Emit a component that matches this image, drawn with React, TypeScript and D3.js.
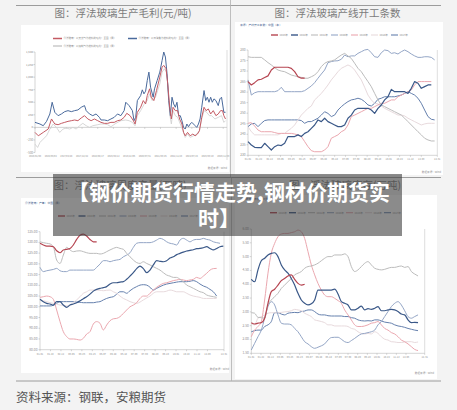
import React from 'react';
import * as d3 from 'd3';

const FONT = '"Noto Sans CJK SC", "Noto Sans", sans-serif';

// ---------------- Chart A: 浮法玻璃生产毛利(元/吨) ----------------
const marginDates = ['2016/01/08', '2016/09/02', '2017/04/28', '2017/12/22', '2018/08/17', '2019/04/12', '2019/12/06', '2020/07/31', '2021/03/26', '2021/11/19', '2022/07/15', '2023/03/10', '2023/11/03'];
const marginDateEvery = 47.5; // period index between date labels
const marginPeriodMax = 577;
const marginTicks = [1500, 1250, 1000, 750, 500, 250, 0, -250, -500];
const marginNames = ['浮法玻璃：以天然气为燃料的毛利：全国（周）', '浮法玻璃：以石油焦为燃料的毛利：全国（周）', '浮法玻璃：以煤制气为燃料的毛利：全国（周）'];
const marginGas: [number, number][] = [[0,-100],[10,-167],[25,-100],[40,-33],[50,167],[60,67],[70,53],[80,80],[90,100],[100,120],[110,133],[120,147],[130,133],[140,187],[150,233],[160,167],[170,133],[180,167],[190,133],[200,100],[210,80],[220,80],[230,100],[240,100],[250,133],[260,147],[270,200],[278,280],[288,233],[298,133],[303,67],[310,300],[320,400],[328,533],[335,467],[340,633],[347,767],[352,600],[360,533],[368,733],[378,1000],[385,1200],[390,1233],[397,1167],[402,867],[408,400],[413,167],[418,400],[425,333],[432,333],[438,167],[445,67],[450,-100],[455,-167],[462,-100],[470,-167],[478,-133],[485,-167],[492,-133],[498,-67],[505,200],[512,400],[518,333],[525,367],[532,267],[540,333],[548,233],[555,267],[562,333],[568,333],[572,233],[577,167]];
const marginPetcoke: [number, number][] = [[0,100],[15,67],[25,33],[35,120],[45,267],[52,500],[60,300],[70,233],[80,267],[90,313],[100,333],[110,313],[120,333],[130,347],[140,400],[150,433],[155,333],[165,267],[175,233],[185,267],[195,200],[200,147],[210,147],[220,133],[230,167],[240,200],[250,267],[260,233],[270,333],[275,500],[285,433],[295,333],[300,133],[305,200],[310,533],[320,633],[325,747],[330,667],[335,720],[340,933],[345,1100],[350,800],[358,600],[362,767],[370,933],[378,1100],[385,1333],[390,1500],[395,1400],[400,1067],[405,533],[410,233],[415,600],[420,467],[425,400],[430,500],[435,233],[440,233],[445,133],[450,0],[455,-33],[460,67],[465,13],[470,67],[475,100],[480,67],[485,33],[490,0],[495,67],[500,167],[505,400],[512,733],[517,533],[522,600],[527,500],[532,600],[537,500],[542,567],[548,533],[555,433],[560,567],[565,600],[572,300],[577,300]];
const marginCoal: [number, number][] = [[0,-333],[8,-400],[15,-300],[25,-233],[35,-167],[45,-33],[55,67],[65,0],[75,-100],[85,-33],[95,-13],[105,-33],[115,0],[125,-33],[135,33],[145,80],[155,33],[165,0],[175,33],[190,53],[200,67],[210,67],[220,53],[230,13],[245,80],[260,133],[275,147],[285,133],[295,100],[303,33],[310,233],[320,333],[330,453],[340,533],[347,667],[355,533],[365,600],[378,867],[385,1100],[392,1167],[398,1100],[403,800],[408,267],[413,67],[418,333],[425,233],[432,200],[440,67],[448,-67],[455,-200],[462,-133],[470,-200],[480,-167],[490,-133],[498,-67],[505,167],[512,333],[520,300],[528,233],[535,233],[545,167],[555,200],[565,233],[572,100],[577,133]];

// ---------------- seasonal charts (by week) ----------------
const yearNames = ['2023年', '2022年', '2021年', '2020年', '2019年', '2018年', '2017年'];
const yearColors = ['#b64551', '#3a5888', '#bcbcbc', '#94a6c6', '#eba7af', '#e8dadd', '#6580ad'];
const weekLabels = ['01-01', '01-22', '02-12', '03-05', '03-26', '04-16', '05-07', '05-28', '06-18', '07-09', '07-30', '08-20', '09-10', '10-01', '10-22', '11-12', '12-03', '12-31'];

// Chart B: 浮法玻璃产线开工条数
const linesB2023 = [265.0,263.4,264.5,265.8,266.1,266.9,267.7,270.5,271.8,271.8,271.8,271.8,271.8,271.3,269.7,267.3,266.6,266.6];
const linesB2022 = [236.5,234.9,233.8,233.6,233.6,235.7,234.1,232.5,234.1,234.9,234.6,235.7,238.9,238.9,238.9,239.7,238.9,240.4,241.2,242.8,244.4,246.8,246.0,247.6,246.0,245.2,244.4,243.6,243.6,244.4,247.6,249.1,251.5,252.3,252.3,252.3,252.3,251.5,249.9,252.3,253.9,256.3,257.8,261.3,260.2,260.2,260.2,260.2,259.4,261.8,265.0,264.2,261.8,262.6,263.4,263.4];
const linesB2021 = [276.8,276.5,276.5,276.5,276.5,275.3,274.0,272.9,271.6,270.5,270.0,269.7,268.9,268.1,267.7,267.3,267.0,266.6,266.6,267.3,268.1,269.7,272.1,273.7,274.5,274.8,275.3,276.5,277.6,278.4,277.2,276.0,273.7,271.3,269.7,267.3,265.0,262.6,259.4,256.3,253.9,253.1,252.3,251.5,250.7,249.9,249.1,247.6,246.0,244.4,242.8,241.2,239.7,238.1,237.3,236.8,236.8];
const linesB2020 = [265.8,258.6,259.7,260.2,260.2,260.2,260.2,260.2,260.2,260.7,262.3,260.2,260.2,260.2,260.2,260.2,260.2,260.7,261.8,262.9,264.5,266.6,268.6,270.5,274.0,274.5,274.8,274.9,275.6,277.6,276.8,277.2,277.2,278.4,279.2,280.0,280.3,278.7,276.8,276.5,278.7,280.0,279.7,278.4,278.7,278.1,279.2,280.0,279.2,278.1,277.2,276.5,276.5,276.8,276.8,276.5,275.3];
const linesB2019 = [245.2,245.5,243.9,242.0,241.2,241.2,241.2,241.2,240.8,240.4,240.4,240.4,240.4,240.4,240.1,239.7,238.9,236.5,234.1,232.2,231.7,231.7,231.7,232.5,234.1,238.1,238.9,239.7,241.2,242.0,244.4,248.4,249.1,249.9,250.7,251.5,252.3,252.3,253.1,253.9,254.7,254.7,255.5,256.3,256.3,257.8,258.6,259.4,260.2,261.0,263.4,265.0,265.0,265.0,265.0,265.0];
const linesB2018 = [243.6,241.2,239.7,239.7,239.7,239.7,239.7,239.7,239.7,239.7,240.4,240.4,241.7,242.8,244.4,246.8,249.1,250.7,252.3,253.4,256.3,257.8,259.4,261.3,263.4,265.8,267.7,269.7,271.3,272.1,272.9,272.1,270.5,268.1,265.8,262.3,258.6,256.3,254.7,254.4,253.4,252.3,251.5,250.7,249.9,249.1,249.1,248.7,247.6,246.8,246.0,245.2,244.4,244.9,245.2,245.2,245.2];
const linesB2017 = [243.6,244.9,245.2,243.6,245.2,246.5,246.8,246.8,246.8,246.8,246.8,246.8,246.8,246.8,246.8,246.8,246.5,245.2,246.0,246.0,246.8,247.6,249.1,250.7,249.9,248.4,249.1,251.5,253.1,254.4,255.5,256.3,256.6,257.1,256.6,255.5,253.9,253.4,254.7,256.6,257.1,257.8,257.8,257.8,257.8,258.2,258.6,259.4,260.2,259.4,258.6,257.1,254.7,251.5,248.4,247.1,246.8];

// Chart C: 周度产量
const outC2023 = [129.6,128.8,128.3,128.3,128.0,126.1,125.2,126.5,126.8,127.2,128.8,131.4,133.4,133.9,133.0,131.4,130.3,130.3];
const outC2022 = [103.5,102.4,101.6,101.3,100.8,102.4,102.4,100.8,99.7,100.8,101.3,101.9,102.8,103.8,104.7,105.9,107.3,108.1,108.6,108.9,109.4,110.6,111.2,111.2,111.5,111.7,112.8,114.3,115.9,117.8,119.0,117.8,115.9,117.1,119.5,121.5,121.2,121.0,121.5,122.7,123.3,124.3,124.9,125.5,126.0,126.3,126.6,127.1,127.2,127.5,128.0,127.2,126.5,127.2,128.0,128.3];
const outC2021 = [130.3,129.9,129.6,129.3,128.0,121.8,120.2,124.1,127.7,126.5,125.7,126.0,126.1,125.7,125.2,124.9,124.9,124.9,124.6,124.9,125.7,126.5,127.2,127.7,127.2,126.8,124.9,123.3,121.8,120.6,120.2,121.0,120.2,119.5,118.7,117.9,117.1,115.9,114.8,114.3,113.7,113.7,112.8,111.7,110.1,109.4,108.6,107.8,107.0,106.6,105.5,105.0,104.7,104.4];
const outC2020 = [118.4,116.4,116.8,117.1,117.4,117.9,116.8,116.4,116.4,117.1,117.1,117.1,117.1,117.1,117.1,117.1,117.1,118.4,119.9,121.5,121.5,121.0,121.5,121.8,122.1,123.3,124.1,125.2,127.7,129.6,129.9,129.9,129.9,129.9,130.3,131.1,131.9,131.4,130.3,129.6,129.3,128.8,131.1,131.9,131.1,130.3,131.1,131.4,131.4,131.9,131.4,131.1,130.3,129.9,129.6];
const outC2019 = [104.4,104.7,105.0,104.7,103.5,98.5,93.1,88.4,86.1,85.0,85.0,84.8,84.5,85.3,87.3,88.4,92.0,93.1,92.3,89.2,91.5,93.5,94.4,94.6,95.4,96.9,98.5,100.0,100.8,101.9,103.9,105.0,105.0,106.3,107.8,109.1,110.1,110.9,111.2,111.7,112.2,112.5,112.8,112.5,112.2,112.5,112.8,113.7,113.2,114.3,115.6,117.1,117.8,117.9];
const outC2018 = [103.2,102.8,102.4,101.9,101.6,101.3,100.8,100.7,100.4,100.8,101.9,103.2,104.7,106.3,107.0,107.8,107.8,107.8,107.7,107.5,107.7,107.8,107.0,106.3,105.0,103.9,103.2,102.4,101.9,101.6,102.2,103.2,104.1,105.0,106.3,107.0,107.0,107.0,107.3,107.8,107.5,107.0,107.0,107.0,106.3,105.5,105.0,104.7,104.4,103.9,103.9,103.9,103.9,103.9];
const outC2017 = [100.4,100.4,100.4,100.4,100.7,101.6,102.4,102.4,102.4,102.4,102.4,102.2,102.1,101.9,101.9,101.9,101.9,102.2,102.4,103.2,103.9,104.4,104.7,105.9,107.0,107.0,106.3,107.5,108.6,109.4,110.1,110.3,110.1,109.1,107.8,108.6,109.4,110.1,110.6,110.9,111.2,111.5,111.7,111.7,111.7,111.9,112.2,111.7,110.6,109.7,109.1,108.1,107.0,105.0];

// Chart D: 库存
const stockD2023 = [2.61,2.56,2.59,2.61,2.77,3.31,3.73,3.82,3.97,4.13,4.21,4.30,4.34,4.18,4.03,3.97,4.00];
const stockD2022 = [4.18,4.09,4.52,4.85,4.94,5.06,5.12,5.14,5.00,4.70,4.52,4.40,4.21,3.97,3.67,3.43,3.31,3.25,3.29,3.43,3.79,3.79,3.79,3.79,3.79,3.82,3.65,3.37,3.31,3.25,3.07,3.07,3.13,3.21,3.07,3.12,3.09,3.13,3.19,3.04,3.04,3.07,3.09,3.07,3.01,2.92,2.89,2.71,2.61,2.62,2.61];
const stockD2021 = [2.97,2.95,2.80,2.79,2.77,3.25,3.43,3.55,3.67,3.85,3.97,4.09,4.21,4.34,4.40,4.46,4.58,4.64,4.66,4.70,4.76,4.85,4.94,5.00,5.00,5.06,5.06,5.06,5.10,5.00,4.64,4.46,4.52,4.64,4.76,4.82,4.70,4.58,4.54,4.52,4.54,4.58,4.61,4.61,4.64,4.66,4.61,4.64,4.46,4.37,4.30];
const stockD2020 = [1.62,1.86,2.10,2.34,2.77,3.19,3.37,3.25,2.89,2.59,2.56,2.56,2.53,2.40,2.28,2.10,1.92,1.84,1.74,1.68,1.72,1.77,1.84,1.98,2.07,2.08,2.08,2.01,1.92,1.89,1.96,2.04,2.13,2.20,2.22,2.25,2.28,2.34,2.53,2.65,2.83,3.01,3.19,3.31,3.37,3.25,3.04,2.83,2.77,2.83,2.89];
const stockD2019 = [2.10,2.34,2.47,2.65,3.43,4.40,5.12,5.48,5.72,5.82,5.84,5.84,5.87,5.90,5.96,5.90,5.66,5.18,4.70,4.34,4.03,3.79,3.61,3.55,3.55,3.49,3.41,3.31,3.07,2.89,2.71,2.53,2.47,2.47,2.49,2.53,2.59,2.61,2.65,2.53,2.40,2.34,2.25,2.20,2.10,1.98,1.92,1.84,1.74,1.64,1.60];
const stockD2018 = [2.59,2.53,2.77,2.83,2.89,2.95,2.97,2.97,2.97,2.98,3.00,3.01,3.04,3.09,3.07,3.04,2.95,2.89,2.83,2.71,2.68,2.65,2.61,2.53,2.53,2.49,2.49,2.49,2.49,2.47,2.40,2.37,2.28,2.22,2.20,2.22,2.20,2.28,2.22,2.10,2.01,1.98,1.92,1.91,1.89,1.89,1.91,1.92,1.92,1.89,1.91];
const stockD2017 = [2.28,2.32,2.34,2.34,2.47,2.53,2.65,2.97,2.97,2.92,2.89,2.95,2.97,2.98,2.97,3.01,3.03,3.07,3.07,3.01,2.92,2.89,2.89,2.86,2.85,2.85,2.85,2.85,2.83,2.83,2.79,2.77,2.71,2.68,2.67,2.68,2.67,2.71,2.71,2.67,2.63,2.61,2.59,2.53,2.49,2.47,2.44,2.40,2.37,2.34,2.32];

const GRID = '#ababab';
const LABEL = '#8e8e8e';

function SeasonChart(p: any) {
  const x = d3.scaleLinear().domain([0, p.xMax]).range([p.l, p.r]);
  const y = d3.scaleLinear().domain([p.yMin, p.yMax]).range([p.b, p.t]);
  const yTicks = d3.range(p.yMin, p.yMax + p.yStep / 2, p.yStep);
  const xTicks = weekLabels.map((_, i) => (i === weekLabels.length - 1 ? p.xMax : i * p.xStep));
  const line = d3.line<number>().x((_, i) => x(i)).y((d) => y(d)).curve(p.curve || d3.curveLinear);
  const fmt = d3.format(p.yFmt);
  return (
    <g fontFamily={FONT}>
      <rect x={p.box[0]} y={p.box[1]} width={p.box[2] - p.box[0]} height={p.box[3] - p.box[1]} fill="#fff" />
      <text x={p.headerX} y={p.headerY} fontSize={2.8} fill="#4a6591">{p.header}</text>
      {yearNames.map((name, i) => {
        const lx = p.legendX + i * p.legendGap;
        return (
          <g key={name}>
            <line x1={lx} x2={lx + 7} y1={p.legendY} y2={p.legendY} stroke={yearColors[i]} strokeWidth={i < 2 ? 1.4 : 1.1} />
            <text x={lx + 8.5} y={p.legendY + 0.9} fontSize={2.6} fill={LABEL}>{name}</text>
          </g>
        );
      })}
      <line x1={p.l} x2={p.l} y1={p.t} y2={p.b} stroke={GRID} strokeWidth={0.5} />
      {yTicks.map((v) => (
        <g key={v}>
          <line x1={p.l - 1.5} x2={p.l} y1={y(v)} y2={y(v)} stroke={GRID} strokeWidth={0.5} />
          <text x={p.l - 2.5} y={y(v) + 1} fontSize={p.yFont} textAnchor="end" fill={LABEL}>{fmt(v)}</text>
        </g>
      ))}
      <line x1={p.l} x2={x(p.xMax)} y1={p.b} y2={p.b} stroke={GRID} strokeWidth={0.5} />
      {xTicks.map((v, i) => (
        <g key={i}>
          <line x1={x(v)} x2={x(v)} y1={p.b} y2={p.b + 1.5} stroke={GRID} strokeWidth={0.5} />
          <text x={x(v)} y={p.b + 5} fontSize={2.5} textAnchor="middle" fill={LABEL}>{weekLabels[i]}</text>
        </g>
      ))}
      <line x1={x(p.xMax)} x2={x(p.xMax)} y1={p.t} y2={p.b} stroke="#c8c8c8" strokeWidth={0.6} />
      {p.series
        .map((s: number[], i: number) => (
          <path key={i} d={line(s) || ''} fill="none" stroke={yearColors[i]} strokeWidth={i < 2 ? 1.2 : 1.0} strokeLinejoin="round" />
        ))
        .reverse()}
      <text x={p.footerX} y={p.footerY} fontSize={2.6} textAnchor="end" fill={LABEL}>数据来源：Wind</text>
    </g>
  );
}

function MarginChart() {
  const l = 35, r = 225.5, t = 52, b = 152.5;
  const x = d3.scaleLinear().domain([0, marginPeriodMax]).range([l, r]);
  const y = d3.scaleLinear().domain([-500, 1500]).range([b, t]);
  const line = d3.line<[number, number]>().x((d) => x(d[0])).y((d) => y(d[1]));
  const fmt = d3.format(',');
  const series: { data: [number, number][]; color: string; w: number }[] = [
    { data: marginCoal, color: '#d2d2d2', w: 0.9 },
    { data: marginPetcoke, color: '#4a6a9c', w: 1.0 },
    { data: marginGas, color: '#c45a63', w: 1.0 },
  ];
  return (
    <g fontFamily={FONT}>
      <rect x={21} y={25} width={208} height={147} fill="#fff" />
      <line x1={53} x2={62} y1={38.5} y2={38.5} stroke="#c45a63" strokeWidth={1.5} />
      <text x={63.5} y={39.4} fontSize={2.5} fill={LABEL}>{marginNames[0]}</text>
      <line x1={128} x2={137} y1={38.5} y2={38.5} stroke="#4a6a9c" strokeWidth={1.5} />
      <text x={138.5} y={39.4} fontSize={2.5} fill={LABEL}>{marginNames[1]}</text>
      <line x1={53} x2={62} y1={46} y2={46} stroke="#bdbdbd" strokeWidth={1.2} />
      <text x={63.5} y={46.9} fontSize={2.5} fill={LABEL}>{marginNames[2]}</text>
      <line x1={l} x2={l} y1={t} y2={b} stroke={GRID} strokeWidth={0.5} />
      {marginTicks.map((v) => (
        <g key={v}>
          <line x1={l - 1.5} x2={l} y1={y(v)} y2={y(v)} stroke={GRID} strokeWidth={0.5} />
          <text x={l - 2} y={y(v) + 1} fontSize={2.8} textAnchor="end" fill={LABEL}>{fmt(v)}</text>
        </g>
      ))}
      <line x1={l} x2={227} y1={y(0)} y2={y(0)} stroke="#b5b5b5" strokeWidth={0.6} />
      {marginDates.map((d, i) => (
        <g key={d}>
          <line x1={x(i * marginDateEvery)} x2={x(i * marginDateEvery)} y1={y(0)} y2={y(0) + 1.5} stroke={GRID} strokeWidth={0.5} />
          <text x={x(i * marginDateEvery)} y={b + 4} fontSize={2.3} textAnchor="middle" fill={LABEL}>{d}</text>
        </g>
      ))}
      <line x1={227} x2={227} y1={50} y2={160} stroke="#c8c8c8" strokeWidth={0.6} />
      {series.map((s, i) => (
        <path key={i} d={line(s.data) || ''} fill="none" stroke={s.color} strokeWidth={s.w} strokeLinejoin="round" />
      ))}
      <text x={227} y={169} fontSize={2.6} textAnchor="end" fill={LABEL}>数据来源：Wind</text>
    </g>
  );
}

export default function App() {
  return (
    <svg width={457} height={410} style={{ position: 'absolute', left: 0, top: 0 }} fontFamily={FONT}>
      <rect x={0} y={0} width={457} height={410} fill="#f3f3f3" />
      {/* frame lines */}
      <line x1={16} x2={441} y1={5.5} y2={5.5} stroke="#9c9c9c" strokeWidth={1} />
      <line x1={16} x2={441} y1={177.5} y2={177.5} stroke="#9c9c9c" strokeWidth={1} />
      <line x1={16} x2={441} y1={381} y2={381} stroke="#9c9c9c" strokeWidth={1} />
      <line x1={230.5} x2={230.5} y1={0} y2={177.5} stroke="#b0b0b0" strokeWidth={0.8} />
      <line x1={231.5} x2={231.5} y1={177.5} y2={381} stroke="#b0b0b0" strokeWidth={0.8} />

      <text x={123} y={17} fontSize={10.5} textAnchor="middle" fill="#7c7c7c">图：浮法玻璃生产毛利(元/吨)</text>
      <text x={337.5} y={17} fontSize={10.5} textAnchor="middle" fill="#7c7c7c">图：浮法玻璃产线开工条数</text>
      <text x={120} y={189} fontSize={10.5} textAnchor="middle" fill="#7c7c7c">图：浮法玻璃周度产量(万吨)</text>
      <text x={401} y={189} fontSize={10.5} textAnchor="end" fill="#7c7c7c">图：浮法玻璃库存(万吨)</text>

      <MarginChart />
      <SeasonChart
        box={[235, 22, 443, 175]} l={248} r={437.3} t={50} b={155.3}
        xMax={56.8} xStep={3.25} yMin={230} yMax={280} yStep={5} yFmt="d" yFont={3.2}
        header="来源：产线开工条数：中国（条）" headerX={240} headerY={25.5}
        legendX={271} legendY={35} legendGap={20}
        footerX={441} footerY={173}
        series={[linesB2023, linesB2022, linesB2021, linesB2020, linesB2019, linesB2018, linesB2017]}
      />
      <SeasonChart
        box={[21, 198, 229, 373]} l={40} r={224} t={231.7} b={349.7}
        xMax={55.2} xStep={3.14} yMin={80} yMax={135} yStep={5} yFmt=".2f" yFont={3.3}
        header="浮法玻璃：产量：中国（周）" headerX={25} headerY={204}
        legendX={58} legendY={216} legendGap={20.5}
        footerX={229} footerY={370}
        curve={d3.curveMonotoneX}
        series={[outC2023, outC2022, outC2021, outC2020, outC2019, outC2018, outC2017]}
      />
      <SeasonChart
        box={[235, 195, 437, 379]} l={251.3} r={424.7} t={229} b={353.3}
        xMax={52} xStep={2.9} yMin={1.5} yMax={6} yStep={0.5} yFmt=".2f" yFont={3.3}
        header="浮法玻璃：库存：中国（周）" headerX={240} headerY={200}
        legendX={270} legendY={212.7} legendGap={19}
        footerX={434} footerY={374}
        curve={d3.curveMonotoneX}
        series={[stockD2023, stockD2022, stockD2021, stockD2020, stockD2019, stockD2018, stockD2017]}
      />

      {/* overlay banner */}
      <rect x={53} y={174} width={349} height={62} fill="rgba(62,62,62,0.6)" />
      <text x={229} y={200} fontSize={21} fontWeight={700} textAnchor="middle" fill="#fff">【钢价期货行情走势,钢材价期货实</text>
      <text x={219} y={225.5} fontSize={21} fontWeight={700} textAnchor="middle" fill="#fff">时】</text>

      <text x={16} y={402} fontSize={12.5} fill="#555">资料来源：钢联，安粮期货</text>
    </svg>
  );
}
